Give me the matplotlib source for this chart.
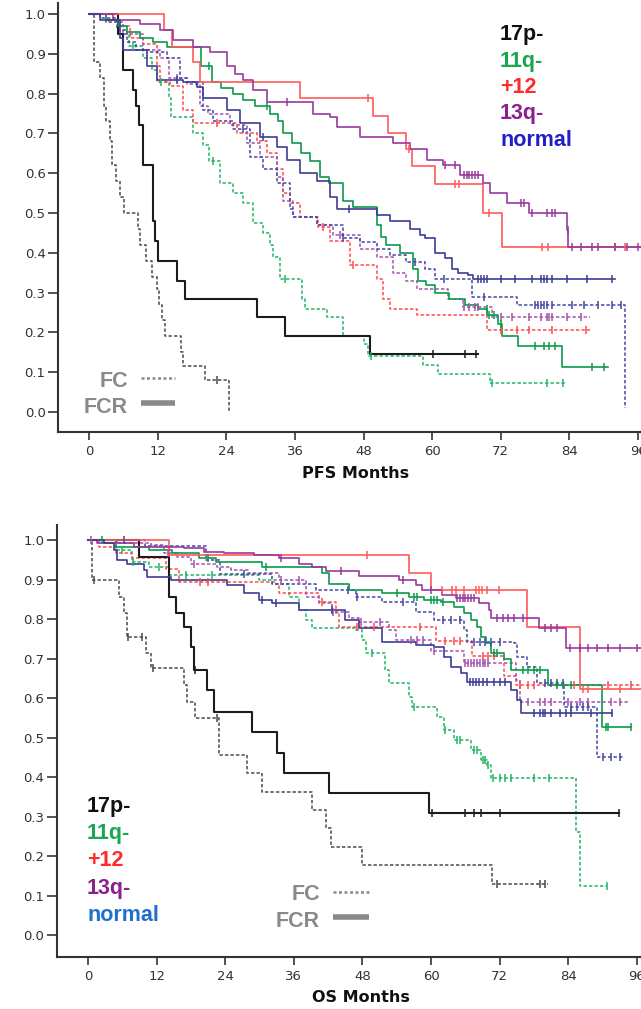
import numpy as np
import matplotlib
matplotlib.use("Agg")
import matplotlib.pyplot as plt
from matplotlib.lines import Line2D

# ---------------- PFS (top panel) ----------------
# each curve: step times, survival after the step, censor times
pfs_17p_fc_t = [0, 0.9, 2.0, 2.6, 3.0, 3.6, 4.0, 4.8, 5.5, 6.2, 8.6, 9.0, 10.0, 11.0, 11.8, 12.3, 12.8, 13.2, 16.0, 16.5, 20.3, 24.5]
pfs_17p_fc_s = [1.0, 0.88, 0.84, 0.77, 0.73, 0.68, 0.62, 0.58, 0.54, 0.50, 0.46, 0.42, 0.38, 0.34, 0.31, 0.27, 0.23, 0.19, 0.15, 0.115, 0.08, 0.0]
pfs_17p_fc_c = [22.4]

pfs_17p_fcr_t = [0, 5.0, 5.9, 7.7, 8.3, 8.8, 9.4, 11.2, 11.6, 12.0, 15.3, 16.7, 29.4, 34.3, 49.2, 68.0]
pfs_17p_fcr_s = [1.0, 0.95, 0.86, 0.81, 0.77, 0.72, 0.62, 0.48, 0.43, 0.38, 0.33, 0.285, 0.24, 0.19, 0.145, 0.145]
pfs_17p_fcr_c = [60.1, 65.7, 67.7]

pfs_11q_fc_t = [0, 3.0, 5.0, 7.0, 9.5, 11.0, 11.8, 13.9, 14.4, 18.2, 20.0, 21.0, 22.9, 25.2, 27.0, 28.7, 30.5, 31.6, 32.2, 33.4, 37.2, 37.8, 41.6, 44.4, 48.0, 48.8, 58.4, 61.0, 70.1, 83.3]
pfs_11q_fc_s = [1.0, 0.98, 0.95, 0.92, 0.89, 0.86, 0.83, 0.79, 0.74, 0.70, 0.67, 0.63, 0.575, 0.55, 0.525, 0.475, 0.45, 0.42, 0.39, 0.335, 0.285, 0.26, 0.24, 0.19, 0.17, 0.14, 0.118, 0.095, 0.072, 0.072]
pfs_11q_fc_c = [7.7, 12.5, 21.7, 34.3, 49.3, 70.5, 80.0, 82.9]

pfs_11q_fcr_t = [0, 3.0, 5.0, 6.6, 8.9, 11.2, 13.6, 19.5, 21.5, 23.0, 25.2, 27.0, 29.0, 31.6, 33.0, 34.0, 35.5, 37.0, 38.6, 40.4, 42.0, 44.4, 46.2, 50.3, 51.0, 52.0, 54.4, 56.7, 57.6, 59.0, 60.5, 63.0, 65.7, 68.0, 69.6, 71.5, 72.2, 75.0, 82.7, 90.8]
pfs_11q_fcr_s = [1.0, 0.985, 0.97, 0.955, 0.94, 0.93, 0.917, 0.87, 0.83, 0.815, 0.80, 0.785, 0.77, 0.75, 0.73, 0.70, 0.675, 0.65, 0.63, 0.59, 0.575, 0.53, 0.515, 0.47, 0.44, 0.42, 0.40, 0.36, 0.33, 0.32, 0.30, 0.285, 0.27, 0.26, 0.245, 0.22, 0.19, 0.165, 0.113, 0.113]
pfs_11q_fcr_c = [21.0, 31.1, 69.5, 70.0, 70.8, 72.0, 78.0, 79.5, 80.5, 81.5, 88.0, 90.0]

pfs_12_fc_t = [0, 5.0, 7.2, 9.5, 11.8, 12.4, 14.2, 16.5, 18.2, 25.8, 29.3, 31.1, 32.8, 34.0, 35.2, 36.9, 40.0, 42.1, 45.6, 50.3, 51.4, 52.6, 57.3, 69.6, 87.6]
pfs_12_fc_s = [1.0, 0.97, 0.94, 0.925, 0.87, 0.83, 0.82, 0.76, 0.725, 0.70, 0.68, 0.65, 0.61, 0.55, 0.525, 0.49, 0.465, 0.43, 0.37, 0.335, 0.285, 0.26, 0.245, 0.205, 0.205]
pfs_12_fc_c = [22.4, 40.9, 46.2, 72.0, 74.8, 77.0, 81.0, 86.9]

pfs_12_fcr_t = [0, 13.1, 14.5, 18.2, 19.4, 36.9, 49.7, 52.3, 55.5, 56.5, 60.5, 68.9, 72.2, 97.0]
pfs_12_fcr_s = [1.0, 0.96, 0.918, 0.88, 0.83, 0.79, 0.745, 0.70, 0.66, 0.617, 0.573, 0.50, 0.415, 0.415]
pfs_12_fcr_c = [48.8, 56.0, 64.0, 64.6, 70.0, 79.2, 80.3, 92.0, 93.7]

pfs_13q_fc_t = [0, 3.0, 6.0, 9.5, 12.4, 13.9, 17.1, 19.4, 20.8, 24.7, 27.6, 29.9, 32.8, 34.0, 35.7, 39.9, 42.7, 47.4, 50.3, 53.1, 55.5, 57.3, 62.8, 65.3, 70.5, 87.5]
pfs_13q_fc_s = [1.0, 0.98, 0.95, 0.91, 0.89, 0.84, 0.825, 0.77, 0.75, 0.72, 0.675, 0.64, 0.59, 0.53, 0.49, 0.47, 0.445, 0.41, 0.39, 0.35, 0.33, 0.31, 0.285, 0.265, 0.24, 0.24]
pfs_13q_fc_c = [15.4, 43.9, 65.5, 66.5, 67.5, 68.0, 72.0, 74.0, 77.0, 79.0, 80.0, 80.5, 81.0, 83.5, 86.0]

pfs_13q_fcr_t = [0, 4.2, 8.9, 12.4, 14.7, 18.2, 21.2, 24.1, 25.5, 27.0, 28.7, 31.1, 39.2, 42.1, 43.3, 47.4, 53.1, 56.1, 59.1, 61.9, 64.9, 68.9, 70.1, 73.1, 77.0, 83.6, 83.8, 97.0]
pfs_13q_fcr_s = [1.0, 0.985, 0.975, 0.96, 0.935, 0.917, 0.905, 0.87, 0.85, 0.834, 0.81, 0.78, 0.75, 0.74, 0.716, 0.69, 0.675, 0.66, 0.633, 0.62, 0.595, 0.575, 0.55, 0.525, 0.50, 0.457, 0.414, 0.414]
pfs_13q_fcr_c = [34.6, 62.3, 64.0, 65.5, 66.0, 66.5, 67.0, 67.5, 68.0, 75.5, 76.0, 77.5, 80.0, 81.0, 81.5, 83.7, 84.5, 86.0, 88.0, 89.0, 92.0, 94.0, 96.0]

pfs_norm_fc_t = [0, 1.9, 4.9, 6.6, 8.3, 10.7, 13.6, 15.9, 17.1, 20.0, 21.7, 25.2, 28.1, 30.5, 32.8, 35.2, 35.7, 39.9, 44.4, 47.4, 50.3, 52.6, 55.5, 58.7, 60.5, 67.0, 74.8, 93.7]
pfs_norm_fc_s = [1.0, 0.99, 0.96, 0.93, 0.91, 0.905, 0.89, 0.84, 0.83, 0.76, 0.73, 0.71, 0.64, 0.61, 0.575, 0.51, 0.49, 0.47, 0.437, 0.427, 0.41, 0.395, 0.377, 0.36, 0.335, 0.29, 0.27, 0.01]
pfs_norm_fc_c = [27.0, 44.4, 57.0, 62.0, 69.0, 78.0, 78.5, 79.0, 79.5, 80.0, 81.0, 84.5, 86.5, 89.0, 91.5, 93.0]

pfs_norm_fcr_t = [0, 1.9, 5.4, 6.0, 10.1, 11.8, 16.5, 18.8, 20.0, 24.1, 26.4, 29.9, 32.8, 34.6, 36.9, 39.9, 42.1, 43.3, 50.3, 52.6, 56.1, 57.9, 58.7, 60.5, 62.2, 63.5, 64.5, 66.3, 67.1, 92.0]
pfs_norm_fcr_s = [1.0, 0.985, 0.94, 0.91, 0.87, 0.834, 0.83, 0.817, 0.79, 0.76, 0.726, 0.69, 0.667, 0.633, 0.60, 0.58, 0.54, 0.51, 0.495, 0.48, 0.46, 0.445, 0.437, 0.40, 0.387, 0.36, 0.35, 0.345, 0.335, 0.335]
pfs_norm_fcr_c = [15.3, 30.5, 45.5, 68.0, 68.5, 69.0, 69.5, 72.0, 74.5, 77.5, 79.0, 79.5, 80.0, 81.0, 83.5, 87.0, 91.5]

# ---------------- OS (bottom panel) ----------------
os_17p_fc_t = [0, 0.7, 5.4, 6.3, 6.8, 10.1, 11.0, 16.8, 17.3, 18.8, 22.9, 27.8, 30.5, 39.2, 41.6, 42.5, 48.0, 70.6, 80.5]
os_17p_fc_s = [1.0, 0.90, 0.857, 0.815, 0.755, 0.713, 0.675, 0.633, 0.59, 0.55, 0.456, 0.41, 0.362, 0.316, 0.27, 0.223, 0.177, 0.13, 0.13]
os_17p_fc_c = [1.0, 7.0, 9.5, 11.3, 22.6, 71.5, 79.0, 80.0]

os_17p_fcr_t = [0, 8.9, 14.2, 15.4, 16.8, 18.0, 18.5, 20.8, 22.0, 28.7, 33.0, 34.3, 42.1, 59.6, 92.8]
os_17p_fcr_s = [1.0, 0.957, 0.857, 0.815, 0.78, 0.73, 0.67, 0.62, 0.565, 0.514, 0.46, 0.41, 0.36, 0.308, 0.308]
os_17p_fcr_c = [18.8, 60.1, 66.0, 67.5, 68.7, 72.0, 92.8]

os_11q_fc_t = [0, 4.9, 7.7, 10.7, 14.2, 29.9, 32.8, 35.2, 36.9, 38.1, 39.2, 46.8, 48.0, 48.6, 52.0, 52.6, 56.1, 56.7, 61.0, 62.2, 64.0, 67.0, 68.7, 69.8, 70.5, 85.3, 86.0, 90.7]
os_11q_fc_s = [1.0, 0.975, 0.945, 0.932, 0.911, 0.899, 0.888, 0.856, 0.823, 0.797, 0.777, 0.772, 0.747, 0.713, 0.67, 0.638, 0.603, 0.577, 0.552, 0.519, 0.494, 0.468, 0.443, 0.43, 0.397, 0.26, 0.125, 0.125]
os_11q_fc_c = [6.0, 7.9, 12.4, 17.1, 21.7, 49.7, 57.0, 62.5, 64.5, 65.0, 67.5, 68.0, 69.0, 69.5, 70.0, 70.8, 72.0, 73.0, 74.0, 78.0, 80.6, 90.7]

os_11q_fcr_t = [0, 4.9, 10.7, 14.7, 19.4, 22.4, 30.5, 40.9, 42.1, 45.6, 51.4, 56.1, 58.7, 61.7, 64.0, 65.7, 67.0, 68.0, 68.7, 69.6, 70.5, 72.7, 74.0, 80.4, 89.8, 95.0]
os_11q_fcr_s = [1.0, 0.983, 0.975, 0.967, 0.955, 0.945, 0.932, 0.916, 0.89, 0.873, 0.865, 0.856, 0.848, 0.843, 0.83, 0.815, 0.797, 0.78, 0.755, 0.739, 0.713, 0.70, 0.67, 0.633, 0.527, 0.527]
os_11q_fcr_c = [2.5, 21.0, 31.1, 54.0, 57.0, 57.5, 60.0, 60.5, 61.0, 62.0, 71.0, 71.5, 76.0, 77.0, 78.0, 79.0, 82.0, 83.0, 84.5, 90.5, 91.0, 95.0]

os_12_fc_t = [0, 1.9, 4.9, 7.7, 13.6, 15.9, 32.8, 33.4, 40.4, 43.3, 43.9, 60.8, 67.2, 72.7, 74.8, 97.0]
os_12_fc_s = [1.0, 0.983, 0.967, 0.954, 0.928, 0.894, 0.89, 0.865, 0.843, 0.815, 0.78, 0.745, 0.707, 0.655, 0.632, 0.632]
os_12_fc_c = [19.5, 21.0, 41.0, 47.0, 50.0, 58.0, 62.5, 64.0, 65.0, 69.0, 70.0, 71.0, 75.5, 77.0, 78.0, 85.0, 91.0, 95.0]

os_12_fcr_t = [0, 14.2, 56.1, 60.0, 76.8, 86.0, 97.0]
os_12_fcr_s = [1.0, 0.962, 0.916, 0.873, 0.78, 0.622, 0.622]
os_12_fcr_c = [48.8, 61.9, 63.6, 64.3, 65.7, 67.8, 68.4, 68.9, 69.8, 71.8, 86.5, 87.5, 93.0]

os_13q_fc_t = [0, 5.0, 11.0, 13.3, 15.6, 18.0, 22.6, 25.0, 28.0, 33.4, 38.1, 40.4, 42.7, 45.6, 47.4, 52.6, 53.8, 60.0, 65.7, 74.8, 75.5, 94.6]
os_13q_fc_s = [1.0, 0.992, 0.987, 0.967, 0.957, 0.94, 0.932, 0.924, 0.916, 0.899, 0.856, 0.84, 0.818, 0.802, 0.792, 0.772, 0.747, 0.72, 0.69, 0.645, 0.59, 0.59]
os_13q_fc_c = [0.5, 14.0, 18.5, 33.8, 36.9, 42.9, 47.8, 51.0, 56.5, 57.5, 58.5, 60.5, 66.0, 66.5, 67.0, 67.5, 68.0, 68.5, 69.0, 69.5, 70.0, 77.0, 79.0, 80.0, 81.0, 84.0, 86.0, 87.5, 91.5, 93.0]

os_13q_fcr_t = [0, 1.6, 8.0, 16.8, 20.3, 23.8, 29.0, 33.4, 36.9, 39.2, 41.6, 47.4, 54.4, 57.3, 58.4, 61.9, 64.3, 68.4, 70.1, 70.4, 78.8, 83.6, 97.0]
os_13q_fcr_s = [1.0, 0.992, 0.983, 0.98, 0.97, 0.967, 0.962, 0.955, 0.94, 0.932, 0.922, 0.91, 0.899, 0.886, 0.873, 0.861, 0.853, 0.84, 0.823, 0.802, 0.777, 0.726, 0.726]
os_13q_fcr_c = [33.8, 44.3, 55.0, 60.0, 64.5, 65.0, 65.5, 66.0, 66.5, 67.0, 67.5, 71.5, 72.5, 73.5, 74.5, 76.0, 80.0, 81.0, 82.0, 84.3, 86.0, 87.5, 89.0, 91.0, 93.0, 96.0]

os_norm_fc_t = [0, 10.0, 20.6, 23.0, 32.2, 39.9, 46.8, 51.4, 57.3, 60.5, 65.7, 66.3, 74.5, 75.0, 76.7, 78.5, 83.2, 89.0, 93.5]
os_norm_fc_s = [1.0, 0.985, 0.95, 0.915, 0.89, 0.873, 0.856, 0.843, 0.818, 0.797, 0.772, 0.742, 0.739, 0.704, 0.679, 0.638, 0.577, 0.45, 0.45]
os_norm_fc_c = [6.3, 27.3, 45.5, 47.0, 55.0, 62.0, 63.5, 65.0, 67.5, 68.5, 69.5, 70.5, 72.0, 80.0, 81.0, 82.0, 83.0, 84.5, 85.5, 86.5, 87.5, 90.0, 91.5, 93.0]

os_norm_fcr_t = [0, 2.8, 4.5, 5.1, 6.8, 9.8, 10.3, 14.5, 24.3, 27.3, 29.9, 32.2, 36.9, 45.0, 47.4, 51.4, 57.3, 60.5, 62.2, 63.5, 65.2, 66.3, 74.0, 75.0, 75.7, 91.6]
os_norm_fcr_s = [1.0, 0.992, 0.975, 0.949, 0.94, 0.924, 0.907, 0.899, 0.886, 0.865, 0.848, 0.84, 0.823, 0.797, 0.777, 0.742, 0.735, 0.73, 0.704, 0.679, 0.663, 0.641, 0.62, 0.595, 0.562, 0.562]
os_norm_fcr_c = [30.5, 32.8, 42.7, 66.8, 67.3, 67.8, 68.3, 69.0, 69.8, 71.0, 72.0, 73.0, 78.0, 79.0, 79.5, 80.0, 81.0, 82.5, 83.5, 84.5, 88.0, 91.6]

x_ticks = [0, 12, 24, 36, 48, 60, 72, 84, 96]
y_ticks = [0.0, 0.1, 0.2, 0.3, 0.4, 0.5, 0.6, 0.7, 0.8, 0.9, 1.0]
groups = ["17p-", "11q-", "+12", "13q-", "normal"]

COL_SOLID = {"17p": "#1c1c1c", "11q": "#0c9a4c", "12": "#ff5a5a", "13q": "#9a3a9c", "norm": "#3c3c96"}
COL_DOT = {"17p": "#4a4a4a", "11q": "#22b565", "12": "#ff4a4a", "13q": "#a552ad", "norm": "#4646a6"}
DOTTED = (0, (2.2, 1.4))


def draw_km(ax, t, s, cens, color, ls, lw):
    t = np.asarray(t, float)
    s = np.asarray(s, float)
    ax.step(t, s, where="post", color=color, ls=ls, lw=lw, zorder=3)
    c = np.asarray(cens, float)
    idx = np.searchsorted(t, c, side="right") - 1
    ax.plot(c, s[idx], ls="none", marker="|", ms=5.5, mew=1.1, color=color, zorder=4)


def style_axes(ax, xlim, ylim):
    ax.set_xlim(*xlim)
    ax.set_ylim(*ylim)
    ax.set_xticks(x_ticks)
    ax.set_yticks(y_ticks)
    ax.set_yticklabels([f"{v:.1f}" for v in y_ticks])
    for side in ("top", "right"):
        ax.spines[side].set_visible(False)
    for side in ("left", "bottom"):
        ax.spines[side].set_linewidth(1.5)
        ax.spines[side].set_color("#333333")
    ax.tick_params(axis="y", length=7, width=1.2, color="#333333", labelsize=9.5,
                   labelcolor="#333333", pad=2)
    ax.tick_params(axis="x", length=6, width=1.2, color="#333333", labelsize=9.5,
                   labelcolor="#333333", pad=3)


fig = plt.figure(figsize=(6.41, 10.09), dpi=100)
ax1 = fig.add_axes([0.0905, 0.5718, 0.9095, 0.4252])
ax2 = fig.add_axes([0.0889, 0.0515, 0.9111, 0.4281])

pfs = [
    ("17p", pfs_17p_fc_t, pfs_17p_fc_s, pfs_17p_fc_c, pfs_17p_fcr_t, pfs_17p_fcr_s, pfs_17p_fcr_c),
    ("11q", pfs_11q_fc_t, pfs_11q_fc_s, pfs_11q_fc_c, pfs_11q_fcr_t, pfs_11q_fcr_s, pfs_11q_fcr_c),
    ("12", pfs_12_fc_t, pfs_12_fc_s, pfs_12_fc_c, pfs_12_fcr_t, pfs_12_fcr_s, pfs_12_fcr_c),
    ("13q", pfs_13q_fc_t, pfs_13q_fc_s, pfs_13q_fc_c, pfs_13q_fcr_t, pfs_13q_fcr_s, pfs_13q_fcr_c),
    ("norm", pfs_norm_fc_t, pfs_norm_fc_s, pfs_norm_fc_c, pfs_norm_fcr_t, pfs_norm_fcr_s, pfs_norm_fcr_c),
]
os_ = [
    ("17p", os_17p_fc_t, os_17p_fc_s, os_17p_fc_c, os_17p_fcr_t, os_17p_fcr_s, os_17p_fcr_c),
    ("11q", os_11q_fc_t, os_11q_fc_s, os_11q_fc_c, os_11q_fcr_t, os_11q_fcr_s, os_11q_fcr_c),
    ("12", os_12_fc_t, os_12_fc_s, os_12_fc_c, os_12_fcr_t, os_12_fcr_s, os_12_fcr_c),
    ("13q", os_13q_fc_t, os_13q_fc_s, os_13q_fc_c, os_13q_fcr_t, os_13q_fcr_s, os_13q_fcr_c),
    ("norm", os_norm_fc_t, os_norm_fc_s, os_norm_fc_c, os_norm_fcr_t, os_norm_fcr_s, os_norm_fcr_c),
]

for ax, curves in ((ax1, pfs), (ax2, os_)):
    for key, ft, fs, fc, rt, rs, rc in curves:
        draw_km(ax, ft, fs, fc, COL_DOT[key], DOTTED, 1.1)
    for key, ft, fs, fc, rt, rs, rc in curves:
        lw = 1.5 if key == "17p" else 1.2
        draw_km(ax, rt, rs, rc, COL_SOLID[key], "-", lw)

style_axes(ax1, (-5.42, 96.5), (-0.0503, 1.0276))
style_axes(ax2, (-5.42, 96.7), (-0.0557, 1.038))

lab_font = dict(family="DejaVu Sans", fontweight="bold", fontsize=11.5, color="#111111")
ax1.set_xlabel("PFS Months", va="center", **lab_font)
ax1.xaxis.set_label_coords(0.51, -0.096)
ax2.set_xlabel("OS Months", va="center", **lab_font)
ax2.xaxis.set_label_coords(0.52, -0.093)

# genotype labels
txt_cols_top = ["#111111", "#1aa550", "#ff2a2a", "#8e1f8e", "#2020c8"]
txt_cols_bot = ["#111111", "#1aa550", "#ff2a2a", "#8e1f8e", "#1f6fcf"]
leg_font = dict(family="Liberation Sans", fontweight="bold", fontsize=15.5)
W, H = 641.0, 1009.0
for i, (g, c) in enumerate(zip(groups, txt_cols_top)):
    fig.text(500 / W, 1 - (40 + 26.5 * i) / H, g, color=c, va="baseline", ha="left", **leg_font)
for i, (g, c) in enumerate(zip(groups, txt_cols_bot)):
    fig.text(87 / W, 1 - (812 + 27.2 * i) / H, g, color=c, va="baseline", ha="left", **leg_font)

# FC / FCR line-style key
gray = "#8a8a8a"
for (xr, yb1, yb2, l0, l1, ly1, ly2) in ((128, 387, 413, 141, 175, 378, 403),
                                           (320, 900, 927, 333, 369, 892, 917)):
    fig.text(xr / W, 1 - yb1 / H, "FC", color=gray, ha="right", va="baseline", **leg_font)
    fig.text(xr / W, 1 - yb2 / H, "FCR", color=gray, ha="right", va="baseline", **leg_font)
    fig.add_artist(Line2D([l0 / W, l1 / W], [1 - ly1 / H, 1 - ly1 / H], transform=fig.transFigure,
                          color=gray, lw=1.8, ls=(0, (1.2, 1.0))))
    fig.add_artist(Line2D([l0 / W, l1 / W], [1 - ly2 / H, 1 - ly2 / H], transform=fig.transFigure,
                          color=gray, lw=4.0, solid_capstyle="butt"))

fig.savefig("out.png", dpi=100)
